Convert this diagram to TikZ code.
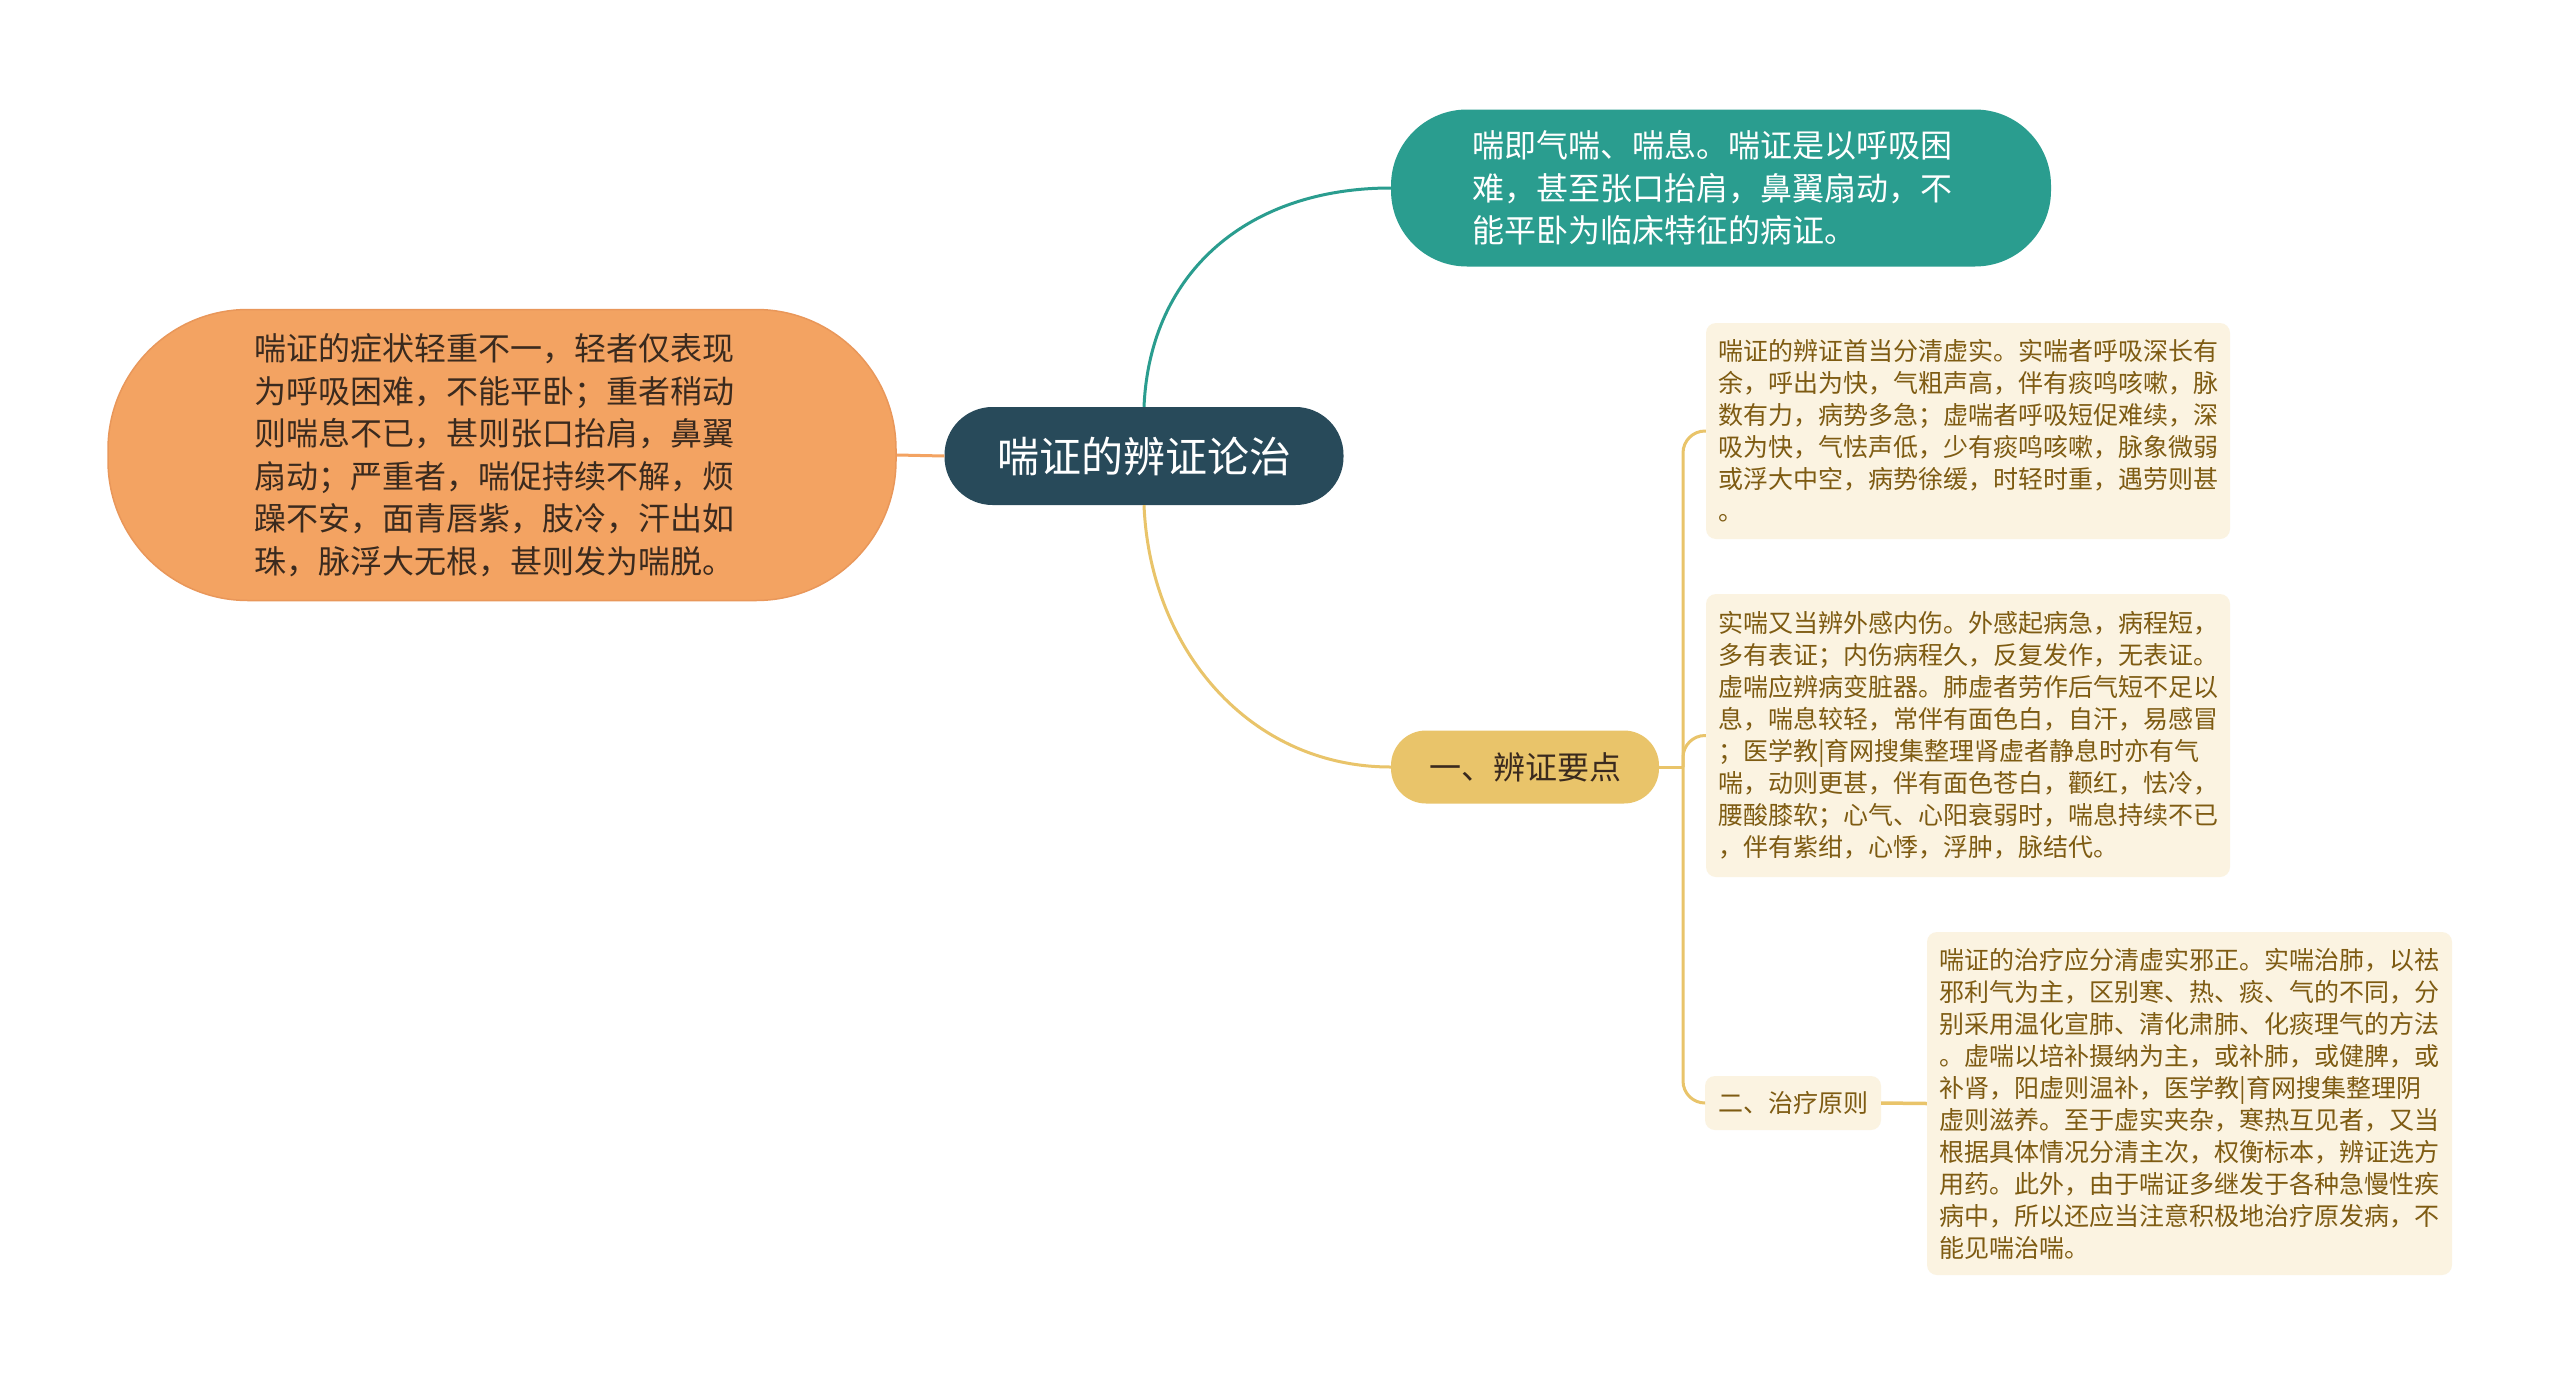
\documentclass[tikz,border=0pt]{standalone}
\usepackage{fontspec}
\setmainfont{Noto Sans CJK SC}
\definecolor{rootc}{HTML}{284A5A}
\definecolor{tealc}{HTML}{2A9D8F}
\definecolor{orangec}{HTML}{F3A362}
\definecolor{orangeline}{HTML}{E9975A}
\definecolor{yellowc}{HTML}{E9C46A}
\definecolor{creamc}{HTML}{FBF3E1}
\definecolor{brownc}{HTML}{7E5B12}
\definecolor{darktext}{HTML}{3A2A1E}
\begin{document}
\begin{tikzpicture}[x=1pt,y=-1pt,
  every node/.style={inner sep=0pt, align=left},
  cream/.style={fill=creamc, rounded corners=10, text=brownc, font=\fontsize{25}{32}\selectfont},
  tealline/.style={draw=tealc, line width=3pt},
  yline/.style={draw=yellowc, line width=3pt},
]
\useasboundingbox[fill=white] (0,0) rectangle (2560,1384);

\coordinate (J) at (1683,767);

% nodes
\node[fill=rootc, rounded corners=48, minimum width=399, minimum height=98,
      text=white, font=\fontsize{42}{50}\selectfont] (root) at (1144,456) {喘证的辨证论治};

\node[fill=tealc, rounded corners=76, minimum width=660, minimum height=157] (def) at (1721,188) {};
\node[text=white, font=\fontsize{32}{42.5}\selectfont] (deft) at ([xshift=-9]def.center)
  {喘即气喘、喘息。喘证是以呼吸困\\难，甚至张口抬肩，鼻翼扇动，不\\能平卧为临床特征的病证。};

\node[fill=orangec, draw=orangeline, line width=1.5pt, rounded corners=140, minimum width=788, minimum height=291] (sym) at (502,455) {};
\node[text=darktext, font=\fontsize{32}{42.5}\selectfont] (symt) at ([xshift=-8]sym.center)
  {喘证的症状轻重不一，轻者仅表现\\为呼吸困难，不能平卧；重者稍动\\则喘息不已，甚则张口抬肩，鼻翼\\扇动；严重者，喘促持续不解，烦\\躁不安，面青唇紫，肢冷，汗出如\\珠，脉浮大无根，甚则发为喘脱。};

\node[fill=yellowc, rounded corners=35, minimum width=268, minimum height=73,
      text=darktext, font=\fontsize{32}{40}\selectfont] (key) at (1525,767) {一、辨证要点};

\node[cream, minimum width=524, minimum height=216] (b1) at (1968,431)
  {喘证的辨证首当分清虚实。实喘者呼吸深长有\\余，呼出为快，气粗声高，伴有痰鸣咳嗽，脉\\数有力，病势多急；虚喘者呼吸短促难续，深\\吸为快，气怯声低，少有痰鸣咳嗽，脉象微弱\\或浮大中空，病势徐缓，时轻时重，遇劳则甚\\。};

\node[cream, minimum width=524, minimum height=283] (b2) at (1968,735.5)
  {实喘又当辨外感内伤。外感起病急，病程短，\\多有表证；内伤病程久，反复发作，无表证。\\虚喘应辨病变脏器。肺虚者劳作后气短不足以\\息，喘息较轻，常伴有面色白，自汗，易感冒\\；医学教|育网搜集整理肾虚者静息时亦有气\\喘，动则更甚，伴有面色苍白，颧红，怯冷，\\腰酸膝软；心气、心阳衰弱时，喘息持续不已\\，伴有紫绀，心悸，浮肿，脉结代。};

\node[cream, minimum width=176, minimum height=54] (er) at (1793,1103) {二、治疗原则};

\node[cream, minimum width=525, minimum height=343] (b3) at (2189.5,1103.5)
  {喘证的治疗应分清虚实邪正。实喘治肺，以祛\\邪利气为主，区别寒、热、痰、气的不同，分\\别采用温化宣肺、清化肃肺、化痰理气的方法\\。虚喘以培补摄纳为主，或补肺，或健脾，或\\补肾，阳虚则温补，医学教|育网搜集整理阴\\虚则滋养。至于虚实夹杂，寒热互见者，又当\\根据具体情况分清主次，权衡标本，辨证选方\\用药。此外，由于喘证多继发于各种急慢性疾\\病中，所以还应当注意积极地治疗原发病，不\\能见喘治喘。};

% connectors
\draw[tealline] (root.north) .. controls (1150,270) and (1250,188) .. (def.west);
\draw[yline] (root.south) .. controls (1150,650) and (1250,767) .. (key.west);
\draw[draw=orangec, line width=3pt] (root.west) -- (sym.east);
\draw[yline] (key.east) -- (J);
\draw[yline, rounded corners=22] (J) |- (b1.west);
\draw[yline, rounded corners=22] (J) |- (b2.west);
\draw[yline, rounded corners=22] (J) |- (er.west);
\draw[yline, line width=3.5pt] (er.east) -- (b3.west);
\end{tikzpicture}
\end{document}
